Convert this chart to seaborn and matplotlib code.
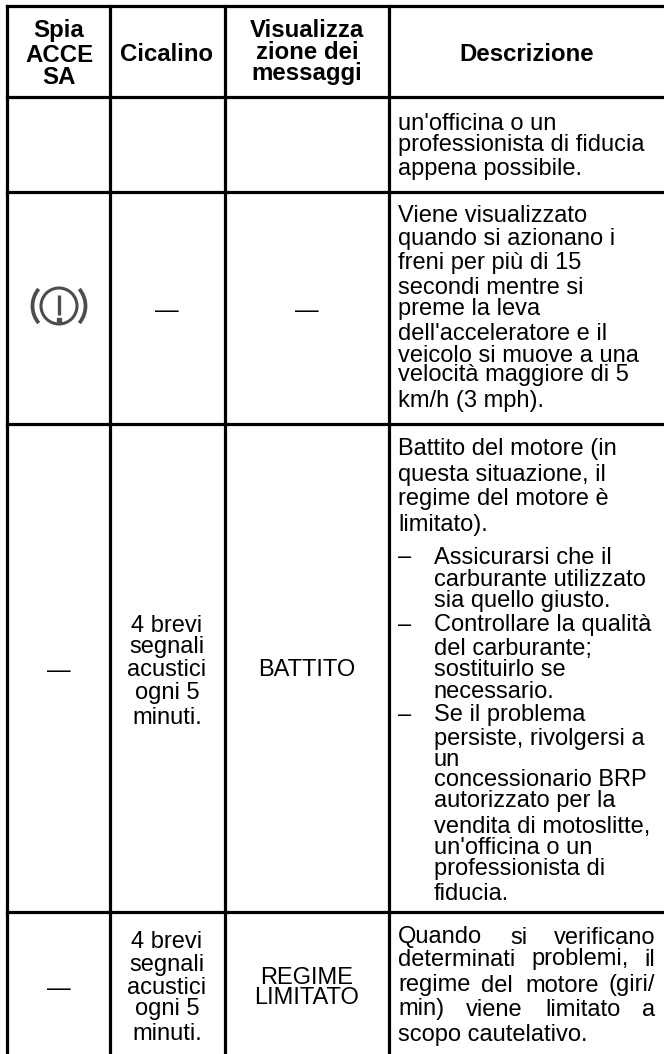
import matplotlib
matplotlib.use('Agg')
import matplotlib.pyplot as plt
from matplotlib.patches import Arc, Circle
import pandas as pd
import seaborn as sns

# cell contents -----------------------------------------------------------
header_spia = ['Spia', 'ACCE', 'SA']
header_cicalino = ['Cicalino']
header_display = ['Visualizza', 'zione dei', 'messaggi']
header_descr = ['Descrizione']

descr_row1 = ["un'officina o un", 'professionista di fiducia', 'appena possibile.']
descr_row2 = ['Viene visualizzato', 'quando si azionano i', 'freni per più di 15',
              'secondi mentre si', 'preme la leva', "dell'acceleratore e il",
              'veicolo si muove a una', 'velocità maggiore di 5', 'km/h (3 mph).']
descr_row3 = ['Battito del motore (in', 'questa situazione, il',
              'regime del motore è', 'limitato).']
bullet1 = ['Assicurarsi che il', 'carburante utilizzato', 'sia quello giusto.']
bullet2 = ['Controllare la qualità', 'del carburante;', 'sostituirlo se', 'necessario.']
bullet3 = ['Se il problema', 'persiste, rivolgersi a', 'un', 'concessionario BRP',
           'autorizzato per la', 'vendita di motoslitte,', "un'officina o un",
           'professionista di', 'fiducia.']
descr_row4_words = [['Quando', 'si', 'verificano'], ['determinati', 'problemi,', 'il'],
                    ['regime', 'del', 'motore', '(giri/'], ['min)', 'viene', 'limitato', 'a']]
descr_row4_last = 'scopo cautelativo.'
buzzer = ['4 brevi', 'segnali', 'acustici', 'ogni 5', 'minuti.']
msg_knock = 'BATTITO'
msg_limit = ['REGIME', 'LIMITATO']
DASH = '—'

# layout (pixels of the page) ---------------------------------------------
col_edges = [7, 110, 224.5, 389, 664]
row_edges = [6, 97, 192, 424, 912]
page_bottom = 1054
col_mid = [59, 167, 307]
text_x = 398
bullet_x = 433.5
FS = 17.0
FS_HEAD = 17.3

y_header_spia = [28, 53, 75]
y_header_display = [28, 50, 71]
y_header_single = 52
y_row1 = [121, 142, 167]
y_row2 = [213, 237, 260, 285, 307, 331, 353, 373, 398]
y_row3 = [447, 472, 497, 523]
y_b1 = [555, 577, 598]
y_b2 = [623, 647, 668, 690]
y_b3 = [712, 737, 757, 778, 799, 824, 846, 867, 892]
y_row4 = [935, 957, 983, 1007]
y_row4_last = 1032
y_buzz3 = [623, 645, 668, 690, 715]
y_buzz4 = [940, 962, 986, 1007, 1032]
y_limit = [975, 995]
x_row4 = [[398, 510, 554], [398, 531, 644], [398, 481.5, 525, 609], [398, 466, 545, 642]]

sns.set_theme(style='white')
plt.rcParams['font.family'] = ['Liberation Sans', 'DejaVu Sans']

fig = plt.figure(figsize=(6.64, 10.54), dpi=100)
ax = fig.add_axes([0, 0, 1, 1])

# table rules as one lineplot, one unit per rule
rules = []
for i, x in enumerate(col_edges[:-1]):
    rules.append(pd.DataFrame({'x': [x, x], 'y': [row_edges[0], page_bottom], 'rule': f'v{i}'}))
for i, y in enumerate(row_edges):
    rules.append(pd.DataFrame({'x': [col_edges[0], col_edges[-1]], 'y': [y, y], 'rule': f'h{i}'}))
rules = pd.concat(rules, ignore_index=True)
sns.lineplot(data=rules, x='x', y='y', units='rule', estimator=None, sort=False,
             color='black', linewidth=2.3, ax=ax, legend=False,
             solid_capstyle='projecting')

ax.set_xlim(0, 664)
ax.set_ylim(1054, 0)
ax.axis('off')


def put(x, y, s, ha='left', bold=False):
    ax.text(x, y, s, ha=ha, va='center_baseline', color='black',
            fontsize=FS_HEAD if bold else FS,
            fontweight='bold' if bold else 'normal')


# header
for s, y in zip(header_spia, y_header_spia):
    put(col_mid[0], y, s, 'center', True)
put(col_mid[1], y_header_single, header_cicalino[0], 'center', True)
for s, y in zip(header_display, y_header_display):
    put(col_mid[2], y, s, 'center', True)
put((col_edges[3] + col_edges[4]) / 2, y_header_single, header_descr[0], 'center', True)

# description column
for lines, ys in [(descr_row1, y_row1), (descr_row2, y_row2), (descr_row3, y_row3)]:
    for s, y in zip(lines, ys):
        put(text_x, y, s)
for lines, ys in [(bullet1, y_b1), (bullet2, y_b2), (bullet3, y_b3)]:
    put(text_x, ys[0], '–')
    for s, y in zip(lines, ys):
        put(bullet_x, y, s)
for words, xs, y in zip(descr_row4_words, x_row4, y_row4):
    for w, x in zip(words, xs):
        put(x, y, w)
put(text_x, y_row4_last, descr_row4_last)

# buzzer and message columns
for ys in (y_buzz3, y_buzz4):
    for s, y in zip(buzzer, ys):
        put(col_mid[1], y, s, 'center')
put(col_mid[2], y_buzz3[2], msg_knock, 'center')
for s, y in zip(msg_limit, y_limit):
    put(col_mid[2], y, s, 'center')

# dashes
put(col_mid[1], 308, DASH, 'center')
put(col_mid[2], 308, DASH, 'center')
put(col_mid[0], y_buzz3[2], DASH, 'center')
put(col_mid[0], y_buzz4[2], DASH, 'center')

# brake warning icon
icon = '#4d4d4d'
cx, cy = col_mid[0], 306
ax.add_patch(Circle((cx, cy), 18, fill=False, ec=icon, lw=2.2))
ax.add_patch(Arc((cx, cy), 53, 53, theta1=140, theta2=220, ec=icon, lw=2.7))
ax.add_patch(Arc((cx, cy), 53, 53, theta1=-40, theta2=40, ec=icon, lw=2.7))
ax.plot([cx, cx], [cy - 11, cy + 9], color=icon, lw=2.4, solid_capstyle='butt')
ax.plot([cx], [cy + 14], 's', color=icon, ms=2.6)

fig.savefig('out.png', dpi=100)
